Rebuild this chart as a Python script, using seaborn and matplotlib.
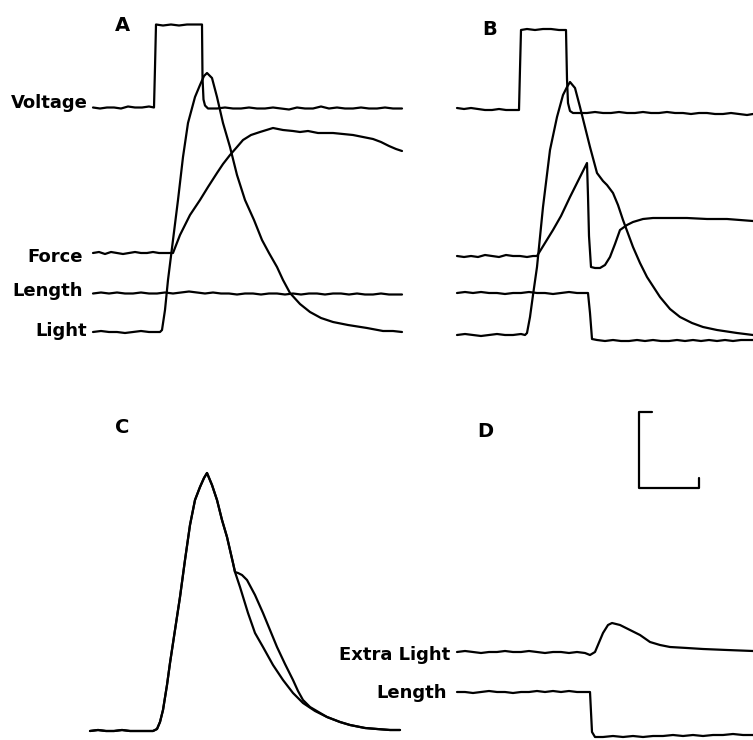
import pandas as pd
import seaborn as sns
from matplotlib import pyplot as plt

# Each trace: (time, signal) pairs, signal measured from the trace's own resting level.
# Panel A
volt_a = [(0, 0), (7, -1), (14, 0), (21, 0), (28, -1), (35, 1), (42, 0), (49, 0), (56, 1), (61, 0),
          (62, 40), (63, 83), (70, 82), (78, 83), (86, 82), (94, 83), (102, 83), (109, 83), (109.5, 30),
          (110.5, 8), (112, 2), (115, -1), (124, -1), (132, 0), (140, -1), (148, -1), (156, 0), (164, -1),
          (172, -1), (180, 0), (188, -1), (196, -2), (204, 0), (212, -1), (220, -1), (228, 1), (236, -1),
          (244, 0), (252, -1), (260, -1), (268, 0), (276, -1), (284, -1), (292, 0), (300, -1), (309, -1)]
force_a = [(0, 0), (6, 1), (12, -1), (18, 1), (24, 0), (30, -1), (36, 0), (42, 1), (48, 0), (54, 0),
           (60, 1), (66, 0), (72, 0), (80, 0), (87, 18), (97, 38), (107, 53), (115, 66), (124, 80),
           (130, 89), (137, 98), (144, 106), (150, 113), (158, 118), (167, 121), (180, 125), (190, 123),
           (200, 122), (207, 121), (215, 122), (225, 120), (240, 120), (250, 119), (260, 118), (270, 116),
           (280, 114), (288, 111), (296, 107), (303, 104), (309, 102)]
length_a = [(0, 0), (8, 1), (16, 0), (24, 1), (32, 0), (40, 0), (48, 1), (56, 0), (64, 0), (72, 1),
            (80, 0), (88, 1), (96, 2), (104, 1), (112, 0), (120, 1), (128, 0), (136, 0), (144, -1),
            (152, 0), (160, 0), (168, -1), (176, 0), (184, 0), (192, -1), (200, 0), (208, -1), (216, 0),
            (224, 0), (232, -1), (240, 0), (248, 0), (256, -1), (264, 0), (272, -1), (280, -1), (288, 0),
            (296, -1), (309, -1)]
light_a = [(0, 0), (8, 1), (16, 0), (24, 0), (32, -1), (40, 0), (48, 1), (56, 0), (64, 0), (67, 0),
           (69, 2), (72, 22), (75, 52), (80, 92), (85, 132), (90, 175), (95, 209), (102, 235), (107, 247),
           (111, 256), (114, 259), (119, 254), (124, 235), (130, 209), (137, 185), (144, 157), (152, 132),
           (161, 112), (169, 92), (176, 79), (184, 65), (190, 52), (197, 39), (207, 28), (217, 20),
           (228, 14), (240, 10), (255, 7), (274, 4), (290, 1), (300, 1), (309, 0)]

# Panel B
volt_b = [(0, 1), (7, 0), (14, 1), (21, 0), (28, -1), (35, -1), (42, 0), (49, -1), (56, -1), (62, -1),
          (63, 40), (64, 79), (70, 80), (78, 79), (86, 80), (94, 80), (102, 79), (109, 79), (110, 30),
          (111, 6), (113, -2), (116, -4), (122, -4), (130, -4), (138, -3), (146, -4), (154, -4), (162, -3),
          (170, -4), (178, -4), (186, -3), (194, -4), (202, -4), (210, -3), (218, -4), (226, -4),
          (234, -5), (242, -4), (250, -4), (258, -5), (266, -5), (274, -4), (282, -5), (290, -6), (296, -5)]
force_b = [(0, 0), (7, -1), (14, 0), (21, -1), (28, 1), (35, 0), (42, -1), (49, 1), (56, 0), (63, 0),
           (70, -1), (76, 0), (80, 0), (88, 13), (96, 26), (104, 40), (113, 59), (122, 77), (130, 93),
           (131, 60), (132, 20), (134, -11), (138, -12), (143, -12), (148, -9), (153, -1), (158, 12),
           (163, 26), (170, 31), (176, 34), (186, 37), (196, 38), (210, 38), (230, 38), (250, 37),
           (270, 37), (296, 35)]
length_b = [(0, 0), (8, 1), (16, 0), (24, 1), (32, 0), (40, 0), (48, -1), (56, 0), (64, 0), (72, 1),
            (80, 0), (88, 0), (96, -1), (104, 0), (112, 1), (120, 0), (128, 0), (131, 0), (133, -20),
            (135, -46), (140, -47), (148, -48), (156, -47), (164, -48), (172, -48), (180, -47), (188, -48),
            (196, -47), (204, -48), (212, -48), (220, -47), (228, -48), (236, -47), (244, -48), (252, -47),
            (260, -48), (268, -47), (276, -48), (284, -47), (296, -47)]
light_b = [(0, 0), (8, 1), (16, 0), (24, -1), (32, 0), (40, 1), (48, 0), (56, 0), (64, 1), (68, 0),
           (70, 2), (73, 18), (76, 40), (80, 68), (86, 128), (93, 185), (100, 218), (106, 240), (110, 248),
           (113, 253), (118, 247), (123, 228), (128, 208), (133, 188), (140, 162), (146, 154), (150, 150),
           (156, 142), (161, 130), (166, 115), (176, 88), (183, 72), (190, 58), (203, 38), (213, 26),
           (223, 18), (235, 12), (246, 8), (260, 5), (280, 2), (296, 0)]

# Panel C: light alone and light with extra release
light_c = [(0, 0), (8, 1), (16, 0), (24, 0), (32, 1), (40, 0), (48, 0), (56, 0), (63, 0), (67, 2),
           (70, 9), (73, 21), (77, 46), (80, 68), (85, 101), (90, 134), (95, 171), (100, 206), (105, 231),
           (110, 244), (114, 253), (117, 258), (122, 246), (127, 231), (132, 211), (137, 194), (143, 168),
           (145, 159), (150, 144), (158, 118), (165, 98), (173, 84), (183, 66), (193, 51), (203, 38),
           (213, 28), (225, 20), (237, 14), (250, 9), (260, 6), (275, 3), (287, 2), (300, 1), (310, 1)]
light_c_extra = [(145, 159), (148, 158), (152, 156), (157, 151), (165, 136), (173, 118), (180, 101),
                 (187, 84), (195, 67), (203, 51), (208, 40), (213, 31), (220, 24), (237, 14)]

# Panel D
extra_d = [(0, 0), (8, 1), (16, 0), (24, -1), (32, 0), (40, 0), (48, 1), (56, 0), (64, 0), (72, 1),
           (80, 0), (88, -1), (96, 0), (104, 0), (112, -1), (120, 0), (128, -1), (133, -3), (138, 0),
           (146, 19), (151, 27), (155, 29), (163, 27), (173, 22), (183, 17), (193, 10), (203, 7),
           (213, 5), (230, 4), (246, 3), (270, 2), (296, 1)]
length_d = [(0, 0), (8, 0), (16, -1), (24, 0), (32, 1), (40, 0), (48, 0), (56, -1), (64, 0), (72, 0),
            (80, 1), (88, 0), (96, 1), (104, 0), (112, 1), (120, 0), (128, 0), (133, 0), (135, -40),
            (138, -45), (146, -45), (156, -44), (166, -45), (176, -44), (186, -45), (196, -44), (206, -44),
            (216, -43), (226, -44), (236, -43), (246, -44), (256, -43), (266, -43), (276, -42), (286, -43),
            (296, -43)]

scale_time = 60
scale_signal = 76

W, H = 753, 740

sns.set_style('white')
plt.rcParams['font.family'] = ['DejaVu Sans']
fig = plt.figure(figsize=(W / 100, H / 100), dpi=100)


def panel(left, top, width, height, t0):
    ax = fig.add_axes([left / W, 1 - (top + height) / H, width / W, height / H])
    ax.set_xlim(left - t0, left + width - t0)
    ax.set_ylim(0, height)
    ax.set_axis_off()
    return ax


def draw(ax, points, level):
    df = pd.DataFrame(points, columns=['time', 'signal'])
    df['signal'] = df['signal'] + level
    sns.lineplot(data=df, x='time', y='signal', ax=ax, color='black', linewidth=1.6,
                 estimator=None, sort=False)
    ax.set_axis_off()


def label(ax, t, y, s, size=13, ha='right'):
    ax.text(t, y, s, ha=ha, va='baseline', fontsize=size, fontweight='bold', color='black')


# left panels overlap the right ones a little, their traces run past the middle
ax_a = panel(0, 0, 410, 370, 93)
ax_b = panel(376.5, 0, 376.5, 370, 457)
ax_c = panel(0, 370, 410, 370, 90)
ax_d = panel(376.5, 370, 376.5, 370, 457)

draw(ax_a, volt_a, 262.5)
draw(ax_a, force_a, 117)
draw(ax_a, length_a, 76.5)
draw(ax_a, light_a, 38)
label(ax_a, -5, 261.5, 'Voltage')
label(ax_a, -10, 108.5, 'Force')
label(ax_a, -10, 73.5, 'Length')
label(ax_a, -6, 33.5, 'Light')
label(ax_a, 22, 339, 'A', size=14, ha='left')

draw(ax_b, volt_b, 261)
draw(ax_b, force_b, 114)
draw(ax_b, length_b, 77)
draw(ax_b, light_b, 35)
label(ax_b, 25, 335, 'B', size=14, ha='left')

outer_c = [p for p in light_c if p[0] < 145] + light_c_extra + [p for p in light_c if p[0] > 237]
draw(ax_c, light_c, 9)
draw(ax_c, outer_c, 9)
label(ax_c, 25, 307, 'C', size=14, ha='left')

draw(ax_d, extra_d, 88)
draw(ax_d, length_d, 48)
label(ax_d, -7, 80, 'Extra Light')
label(ax_d, -10, 42, 'Length')
label(ax_d, 20, 303, 'D', size=14, ha='left')

# calibration bar
bx, by = 182, 252
bar = [(bx + 13, by + scale_signal), (bx, by + scale_signal), (bx, by),
       (bx + scale_time, by), (bx + scale_time, by + 10)]
draw(ax_d, bar, 0)

fig.savefig('out.png', dpi=100)
